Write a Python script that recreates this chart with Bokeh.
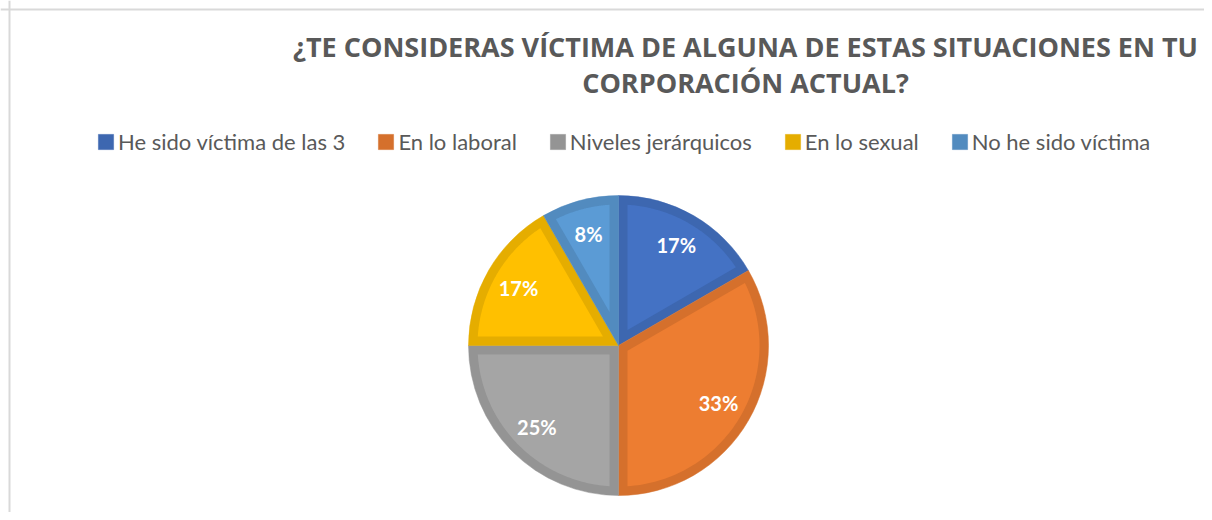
import math
from bokeh.plotting import figure
from bokeh.models import Range1d, Label, Span, ColumnDataSource
from bokeh.embed import file_html
from bokeh.resources import INLINE
from bokeh.core.properties import value

# ---- data ----
categories = ["He sido víctima de las 3", "En lo laboral", "Niveles jerárquicos",
              "En lo sexual", "No he sido víctima"]
counts = [2, 4, 3, 2, 1]
fill_colors = ["#4472C4", "#ED7D31", "#A5A5A5", "#FFC000", "#5B9BD5"]
edge_colors = ["#3D67B0", "#D5702C", "#949494", "#E5AD00", "#528BBF"]
title_lines = ["¿TE CONSIDERAS VÍCTIMA DE ALGUNA DE ESTAS SITUACIONES EN TU",
               "CORPORACIÓN ACTUAL?"]

# ---- layout ----
W, H = 1204, 512
CX, CY, R, BAND = 618, 167, 150, 9
LABEL_R = 0.77

total = sum(counts)
starts, ends, mids, pct = [], [], [], []
cum = 0
for c in counts:
    a_end = math.pi / 2 - 2 * math.pi * cum / total
    cum += c
    a_start = math.pi / 2 - 2 * math.pi * cum / total
    starts.append(a_start)
    ends.append(a_end)
    mids.append((a_start + a_end) / 2)
    pct.append(f"{round(c / total * 100)}%")

# inset polygons (inner lighter part of each slice)
xs, ys = [], []
for a, b in zip(starts, ends):
    h = (b - a) / 2
    m = (a + b) / 2
    v = BAND / math.sin(h)
    ri = R - BAND
    dl = math.asin(BAND / ri)
    px = [CX + v * math.cos(m)]
    py = [CY + v * math.sin(m)]
    n = 80
    for k in range(n + 1):
        t = (a + dl) + (b - a - 2 * dl) * k / n
        px.append(CX + ri * math.cos(t))
        py.append(CY + ri * math.sin(t))
    xs.append(px)
    ys.append(py)

src = ColumnDataSource(dict(
    category=categories, start=starts, end=ends,
    fill=fill_colors, edge=edge_colors, xs=xs, ys=ys,
    lx=[CX + LABEL_R * R * math.cos(m) for m in mids],
    ly=[CY + LABEL_R * R * math.sin(m) for m in mids],
    pct=pct,
))

p = figure(width=W, height=H, x_range=Range1d(0, W), y_range=Range1d(0, H),
           output_backend="svg", toolbar_location=None, min_border=0,
           x_axis_location=None, y_axis_location=None)
p.grid.visible = False
p.outline_line_color = None
p.background_fill_color = "white"
p.border_fill_color = "white"

p.wedge(x=CX, y=CY, radius=R, start_angle="start", end_angle="end",
        direction="anticlock", fill_color="edge", line_color="edge", line_width=0.5,
        source=src, legend_field="category")
p.patches(xs="xs", ys="ys", fill_color="fill", line_color=None, source=src)

p.text(x="lx", y="ly", text="pct", source=src, text_color="white",
       text_font=value("Lato"), text_font_style="bold", text_font_size="20px",
       text_align="center", text_baseline="middle")

# title
for i, line in enumerate(title_lines):
    p.add_layout(Label(x=745, y=466 - 36 * i, text=line, text_font="Open Sans",
                       text_font_size="27px", text_font_style="bold",
                       text_color="#595959", text_align="center",
                       text_baseline="alphabetic"))

# chart border (left and top visible)
p.add_layout(Span(location=9, dimension="height", line_color="#D9D9D9", line_width=2))
p.add_layout(Span(location=H - 9, dimension="width", line_color="#D9D9D9", line_width=2))

lg = p.legend[0]
lg.orientation = "horizontal"
lg.location = (96, 357)
lg.border_line_color = None
lg.background_fill_alpha = 0
lg.padding = 0
lg.margin = 0
lg.spacing = 31
lg.glyph_width = 19
lg.glyph_height = 19
lg.label_height = 19
lg.label_standoff = 3
lg.label_text_font = "Lato"
lg.label_text_font_size = "22px"
lg.label_text_color = "#595959"

open("out.html", "w").write(file_html(p, INLINE))
